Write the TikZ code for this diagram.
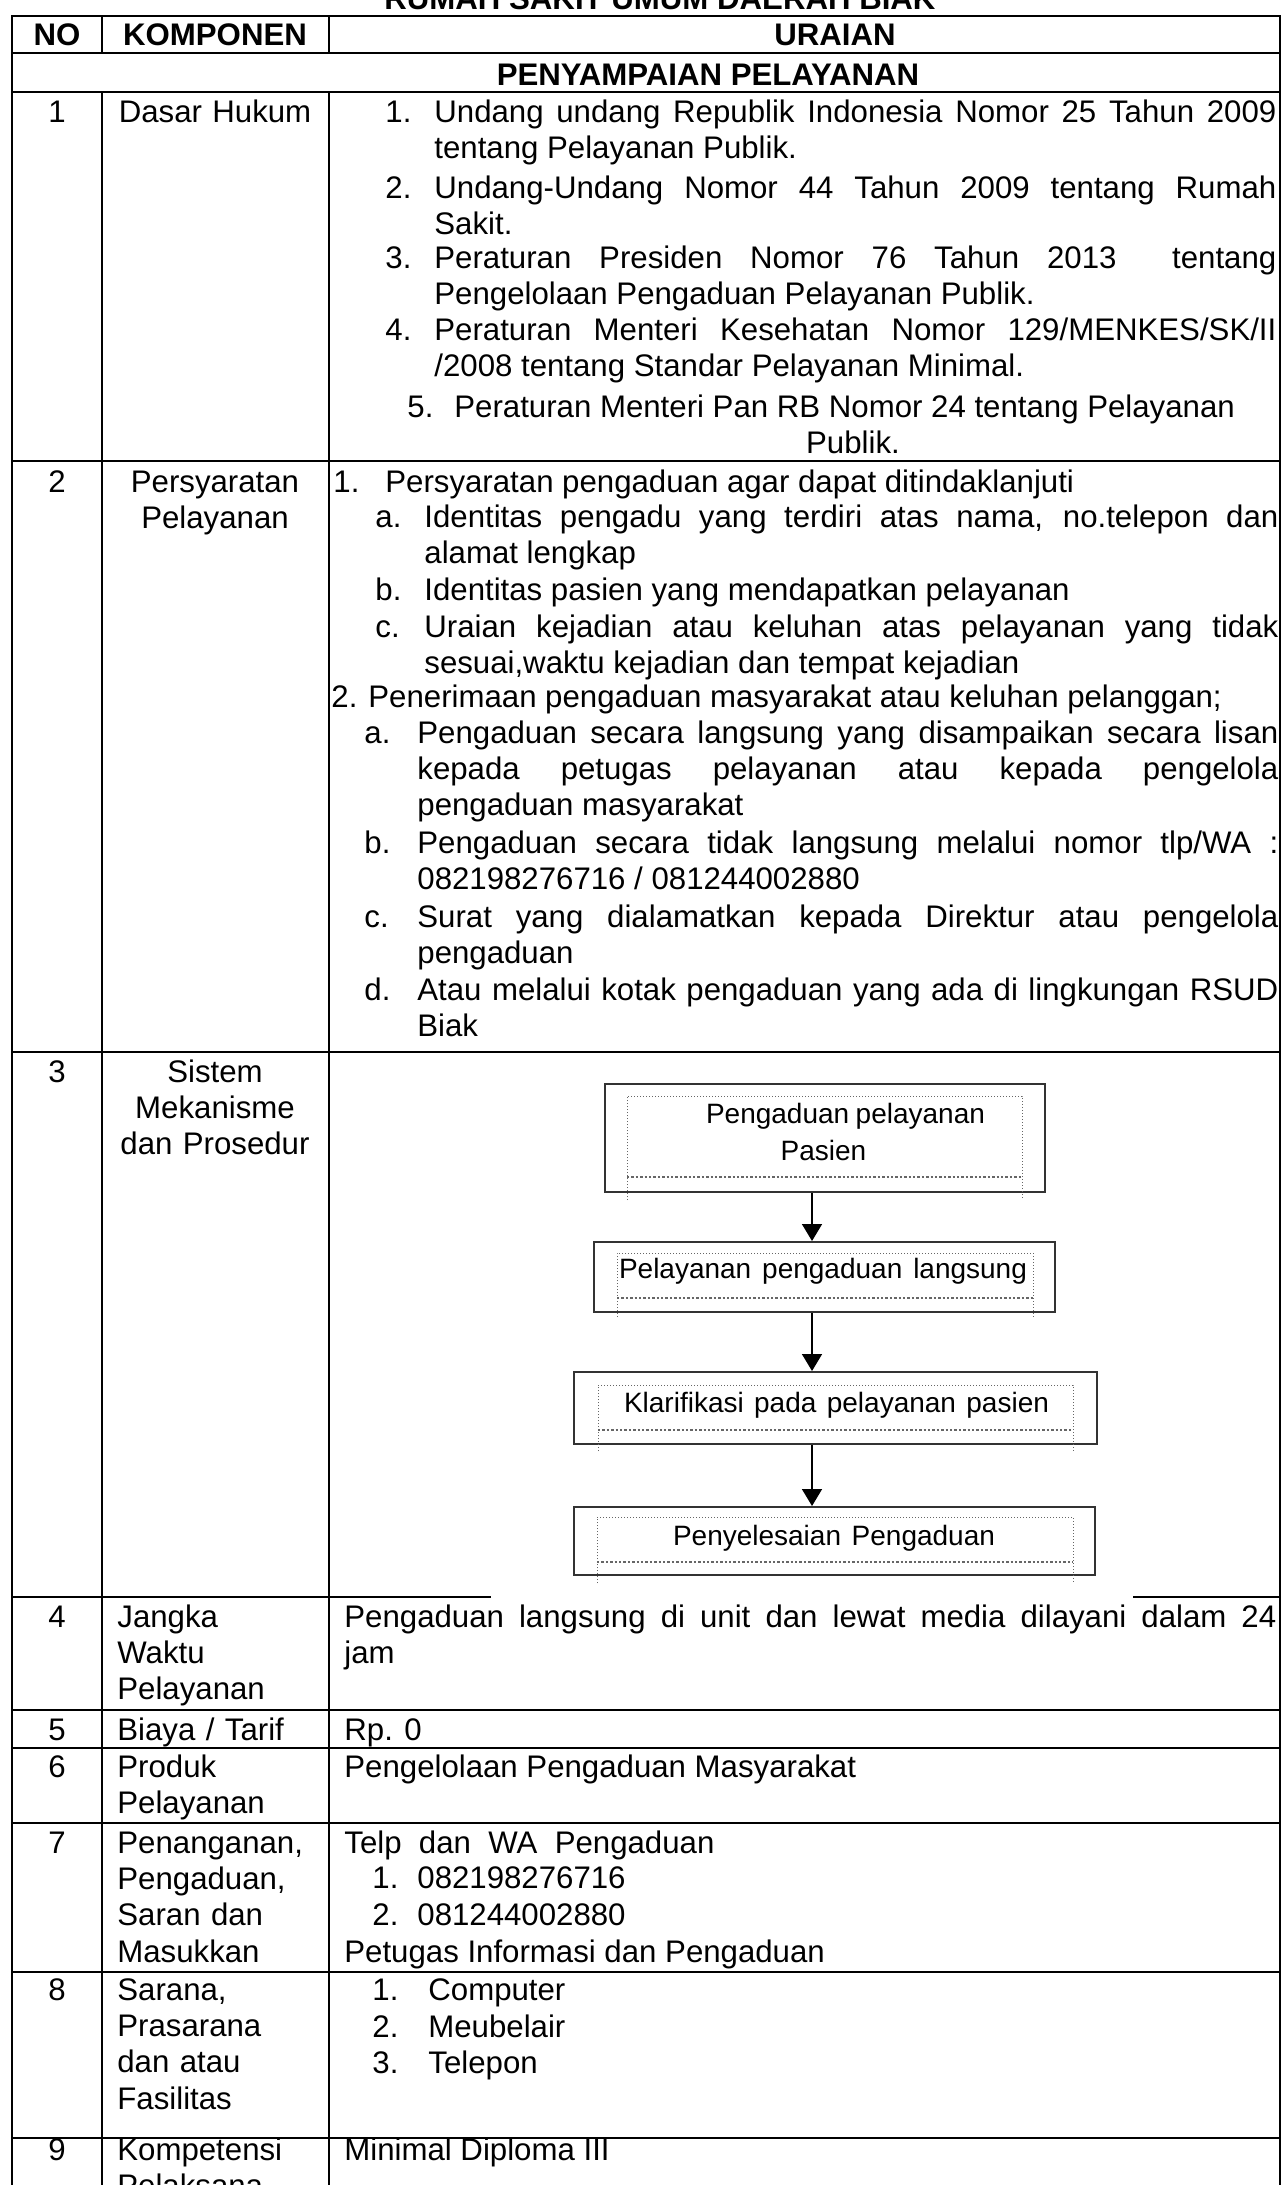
\documentclass[tikz,border=0pt]{standalone}
\usepackage{fontspec}
\setmainfont{Liberation Sans}
\usetikzlibrary{positioning,arrows.meta}

\newcommand{\isifont}{\fontsize{15.6}{18.2}\selectfont}
\newcommand{\alurfont}{\fontsize{14}{16.5}\selectfont}

\tikzset{
  txt/.style={anchor=base west,inner sep=0pt,font=\isifont},
  ctr/.style={anchor=base,inner sep=0pt,font=\isifont},
  par/.style={anchor=base west,inner sep=0pt,font=\isifont,text width=#1,align=justify},
  komp/.style={anchor=base west,inner sep=0pt,font=\isifont,text width=105pt,align=left},
  kompc/.style={anchor=base,inner sep=0pt,font=\isifont,text width=110pt,align=center},
  head/.style={anchor=base,inner sep=0pt,font=\isifont\bfseries},
  grid/.style={line width=1.1pt},
  kotak/.style={draw=black!80,line width=1pt,inner sep=0pt},
  bingkai/.style={black!60,densely dotted,line width=0.5pt},
  alurtxt/.style={anchor=base,inner sep=0pt,font=\alurfont},
  alur/.style={-{Triangle[width=10pt,length=8.5pt]},line width=0.8pt},
}

\begin{document}
\begin{tikzpicture}[x=0.5pt,y=-0.5pt]
\useasboundingbox (0,0) rectangle (1283,2185);

% judul dan kepala tabel
\node[head] (judul) at (660,9) {RUMAH SAKIT UMUM DAERAH BIAK};
\node[head] (hno) at (57,45) {NO};
\node[head] (hkomp) at (215,45) {KOMPONEN};
\node[head] (hurai) at (835,45) {URAIAN};
\node[head] (seksi) at (708,85) {PENYAMPAIAN PELAYANAN};

% garis tabel
\draw[grid] (12,16) rectangle (1280,2200);
\draw[grid] (12,53) -- (1280,53) (12,92) -- (1280,92);
\draw[grid] (102,16) -- (102,53) (329,16) -- (329,53);
\draw[grid] (102,92) -- (102,2200) (329,92) -- (329,2200);
\foreach \y in {461,1052,1597,1710,1748,1823,1972,2138}
  \draw[grid] (12,\y) -- (1280,\y);
% gambar alur menutup garis
\fill[white] (491,1058) rectangle (1133,1601);

% 1 dasar hukum
\node[ctr] (r1n) at (57,122) {1};
\node[kompc] (r1k) at (215,122) {Dasar Hukum};
\node[txt] (r1a) at (385,122) {1.};
\node[par=421pt] (r1at) at (434,122) {Undang undang Republik Indonesia Nomor 25 Tahun 2009\linebreak tentang Pelayanan Publik.};
\node[txt] (r1b) at (385,198) {2.};
\node[par=421pt] (r1bt) at (434,198) {Undang-Undang Nomor 44 Tahun 2009 tentang Rumah\linebreak Sakit.};
\node[txt] (r1c) at (385,268) {3.};
\node[par=421pt] (r1ct) at (434,268) {Peraturan Presiden Nomor 76 Tahun 2013\ \ tentang\linebreak Pengelolaan Pengaduan Pelayanan Publik.};
\node[txt] (r1d) at (385,340) {4.};
\node[par=421pt] (r1dt) at (434,340) {Peraturan Menteri Kesehatan Nomor 129/MENKES/SK/II\linebreak /2008 tentang Standar Pelayanan Minimal.};
\node[txt] (r1e) at (407,417) {5.};
\node[txt] (r1et) at (454,417) {Peraturan Menteri Pan RB Nomor 24 tentang Pelayanan};
\node[ctr] (r1eu) at (853,453) {Publik.};

% 2 persyaratan
\node[ctr] (r2n) at (57,492) {2};
\node[kompc] (r2k) at (215,492) {Persyaratan\\Pelayanan};
\node[txt] (r2a) at (333,492) {1.};
\node[txt] (r2at) at (385,492) {Persyaratan pengaduan agar dapat ditindaklanjuti};
\node[txt] (r2a1) at (375,527) {a.};
\node[par=427pt] (r2a1t) at (424,527) {Identitas pengadu yang terdiri atas nama, no.telepon dan\linebreak alamat lengkap};
\node[txt] (r2a2) at (375,600) {b.};
\node[txt] (r2a2t) at (424,600) {Identitas pasien yang mendapatkan pelayanan};
\node[txt] (r2a3) at (375,637) {c.};
\node[par=427pt] (r2a3t) at (424,637) {Uraian kejadian atau keluhan atas pelayanan yang tidak\linebreak sesuai,waktu kejadian dan tempat kejadian};
\node[txt] (r2b) at (331,707) {2.};
\node[txt] (r2bt) at (368,707) {Penerimaan pengaduan masyarakat atau keluhan pelanggan;};
\node[txt] (r2b1) at (364,743) {a.};
\node[par=430.5pt] (r2b1t) at (417,743) {Pengaduan secara langsung yang disampaikan secara lisan\linebreak kepada petugas pelayanan atau kepada pengelola\linebreak pengaduan masyarakat};
\node[txt] (r2b2) at (364,853) {b.};
\node[par=430.5pt] (r2b2t) at (417,853) {Pengaduan secara tidak langsung melalui nomor tlp/WA :\linebreak 082198276716 / 081244002880};
\node[txt] (r2b3) at (364,927) {c.};
\node[par=430.5pt] (r2b3t) at (417,927) {Surat yang dialamatkan kepada Direktur atau pengelola\linebreak pengaduan};
\node[txt] (r2b4) at (364,1000) {d.};
\node[par=430.5pt] (r2b4t) at (417,1000) {Atau melalui kotak pengaduan yang ada di lingkungan RSUD\linebreak Biak};

% 3 sistem, mekanisme dan prosedur
\node[ctr] (r3n) at (57,1082) {3};
\node[kompc] (r3k) at (215,1082) {Sistem\\Mekanisme\\dan Prosedur};

\node[kotak,minimum width=220pt,minimum height=54pt] (b1) at (825,1138) {};
\node[kotak,minimum width=230.5pt,minimum height=35pt] (b2) at (824.5,1277) {};
\node[kotak,minimum width=261.5pt,minimum height=36pt] (b3) at (835.5,1408) {};
\node[kotak,minimum width=260.5pt,minimum height=34pt] (b4) at (834.5,1541) {};
\foreach \l/\r/\t/\b/\e in {627/1022/1096/1177/1200,617/1033/1253/1298/1317,598/1073/1385/1430/1451,597/1073/1517/1562/1583}{
  \draw[bingkai] (\l,\e) -- (\l,\t) -- (\r,\t) -- (\r,\e);
  \draw[bingkai,line width=1.2pt] (\l,\b) -- (\r,\b);
}
\node[alurtxt] (t1a) at (845.5,1123) {\makebox[139.5pt][s]{Pengaduan pelayanan}};
\node[alurtxt] (t1b) at (823.5,1160) {Pasien};
\node[alurtxt] (t2) at (823,1278) {\makebox[204pt][s]{Pelayanan pengaduan langsung}};
\node[alurtxt] (t3) at (836.5,1412) {\makebox[212.5pt][s]{Klarifikasi pada pelayanan pasien}};
\node[alurtxt] (t4) at (834,1545) {\makebox[161pt][s]{Penyelesaian Pengaduan}};
\coordinate (ax) at (812,0);
\draw[alur] (b1.south -| ax) -- (b2.north -| ax);
\draw[alur] (b2.south -| ax) -- (b3.north -| ax);
\draw[alur] (b3.south -| ax) -- (b4.north -| ax);

% 4 - 9
\node[ctr] (r4n) at (57,1627) {4};
\node[komp] (r4k) at (117,1627) {Jangka\\Waktu\\Pelayanan};
\node[par=466pt] (r4t) at (344,1627) {Pengaduan langsung di unit dan lewat media dilayani dalam 24\linebreak jam};

\node[ctr] (r5n) at (57,1740) {5};
\node[komp] (r5k) at (117,1740) {Biaya / Tarif};
\node[txt] (r5t) at (344,1740) {Rp. 0};

\node[ctr] (r6n) at (57,1777) {6};
\node[komp] (r6k) at (117,1777) {Produk\\Pelayanan};
\node[txt] (r6t) at (344,1777) {Pengelolaan Pengaduan Masyarakat};

\node[ctr] (r7n) at (57,1853) {7};
\node[komp] (r7k) at (117,1853) {Penanganan,\\Pengaduan,\\Saran dan\\Masukkan};
\node[txt] (r7t) at (344,1853) {Telp\ \ dan\ \ WA\ \ Pengaduan};
\node[txt] (r7a) at (372,1888) {1.};
\node[txt] (r7at) at (417,1888) {082198276716};
\node[txt] (r7b) at (372,1925) {2.};
\node[txt] (r7bt) at (417,1925) {081244002880};
\node[txt] (r7u) at (344,1962) {Petugas Informasi dan Pengaduan};

\node[ctr] (r8n) at (57,2000) {8};
\node[komp] (r8k) at (117,2000) {Sarana,\\Prasarana\\dan atau\\Fasilitas};
\node[txt] (r8a) at (372,2000) {1.};
\node[txt] (r8at) at (428,2000) {Computer};
\node[txt] (r8b) at (372,2037) {2.};
\node[txt] (r8bt) at (428,2037) {Meubelair};
\node[txt] (r8c) at (372,2073) {3.};
\node[txt] (r8ct) at (428,2073) {Telepon};

\node[ctr] (r9n) at (57,2160) {9};
\node[komp] (r9k) at (117,2160) {Kompetensi\\Pelaksana};
\node[txt] (r9t) at (344,2160) {Minimal Diploma III};
\end{tikzpicture}
\end{document}
